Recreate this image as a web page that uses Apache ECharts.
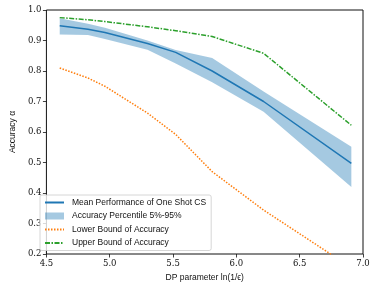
<!DOCTYPE html>
<html><head><meta charset="utf-8">
<script src="https://cdn.jsdelivr.net/npm/echarts@6/dist/echarts.min.js"></script>
<style>html,body{margin:0;padding:0;background:#fff}#c{width:373px;height:288px}</style>
</head><body><div id="c"></div>
<script>
const xVals = [4.605, 4.828, 4.962, 5.298, 5.521, 5.809, 6.215, 6.908];
const meanVals = [0.948, 0.937, 0.926, 0.89, 0.861, 0.80, 0.70, 0.497];
const bandTop = [0.973, 0.955, 0.942, 0.90, 0.869, 0.843, 0.733, 0.552];
const bandBottom = [0.92, 0.918, 0.905, 0.87, 0.825, 0.763, 0.666, 0.42];
const upperVals = [0.975, 0.968, 0.962, 0.945, 0.932, 0.913, 0.858, 0.622];
const lowerVals = [0.81, 0.777, 0.75, 0.662, 0.592, 0.47, 0.344, 0.155];
const xTicks = [4.5, 5.0, 5.5, 6.0, 6.5, 7.0];
const yTicks = [0.2, 0.3, 0.4, 0.5, 0.6, 0.7, 0.8, 0.9, 1.0];
const names = ['Mean Performance of One Shot CS','Accuracy Percentile 5%-95%','Lower Bound of Accuracy','Upper Bound of Accuracy'];

const pairs = arr => xVals.map((x,i)=>[x,arr[i]]);
const serif = 'DejaVu Serif';
const sans = 'Liberation Sans';
const bandColor = 'rgba(31,119,180,0.4)';
const chart = echarts.init(document.getElementById('c'), null, {renderer:'canvas'});
chart.setOption({
  backgroundColor:'#fff',
  animation:false,
  grid:{left:37,right:10,top:10,bottom:34,show:true,borderColor:'#111',borderWidth:1,backgroundColor:'transparent'},
  xAxis:{type:'value',min:xTicks[0],max:xTicks[xTicks.length-1],interval:0.5,
    name:'DP parameter ln(1/ϵ)',nameLocation:'middle',nameGap:17,
    nameTextStyle:{fontFamily:sans,fontSize:8.5,color:'#111'},
    axisLine:{show:false},splitLine:{show:false},
    axisTick:{show:true,length:3.5,lineStyle:{color:'#111',width:0.8}},
    axisLabel:{fontFamily:serif,fontSize:8.5,color:'#111',margin:5,formatter:v=>v.toFixed(1)}},
  yAxis:{type:'value',min:yTicks[0],max:yTicks[yTicks.length-1],interval:0.1,
    name:'Accuracy α',nameLocation:'middle',nameGap:25,
    nameTextStyle:{fontFamily:sans,fontSize:8.5,color:'#111'},
    axisLine:{show:false},splitLine:{show:false},
    axisTick:{show:true,length:3.5,lineStyle:{color:'#111',width:0.8}},
    axisLabel:{fontFamily:serif,fontSize:8.5,color:'#111',margin:5,formatter:v=>v.toFixed(1)}},
  legend:{orient:'vertical',left:40,top:195,itemWidth:19,itemHeight:7,itemGap:3.5,
    padding:[2.5,5,2.5,4],
    backgroundColor:'rgba(255,255,255,0.8)',borderColor:'#ccc',borderWidth:0.8,borderRadius:2,
    textStyle:{fontFamily:sans,fontSize:8.5,lineHeight:10,color:'#111',padding:[0,0,0,3]},
    data:[
      {name:names[0],itemStyle:{opacity:0}},
      {name:names[1],icon:'rect',itemStyle:{color:bandColor}},
      {name:names[2],itemStyle:{opacity:0}},
      {name:names[3],itemStyle:{opacity:0}}
    ]},
  series:[
    {name:names[1],type:'custom',data:xVals.map((x,i)=>[x,bandTop[i],bandBottom[i]]),
      itemStyle:{color:bandColor},z:1,
      renderItem:function(params,api){
        if(params.dataIndex!==0) return null;
        const pts=[];
        for(let i=0;i<xVals.length;i++) pts.push(api.coord([xVals[i],bandTop[i]]));
        for(let i=xVals.length-1;i>=0;i--) pts.push(api.coord([xVals[i],bandBottom[i]]));
        return {type:'polygon',shape:{points:pts},style:{fill:bandColor}};
      }},
    {name:names[0],type:'line',data:pairs(meanVals),symbol:'none',
      lineStyle:{color:'#1f77b4',width:1.5},itemStyle:{color:'#1f77b4'},z:3},
    {name:names[2],type:'line',data:pairs(lowerVals),symbol:'none',
      lineStyle:{color:'#ff7f0e',width:1.5,type:[1.5,1.5]},itemStyle:{color:'#ff7f0e'},z:2},
    {name:names[3],type:'line',data:pairs(upperVals),symbol:'none',
      lineStyle:{color:'#2ca02c',width:1.5,type:[5,1.5,1.5,1.5]},itemStyle:{color:'#2ca02c'},z:2}
  ]
});
</script></body></html>
